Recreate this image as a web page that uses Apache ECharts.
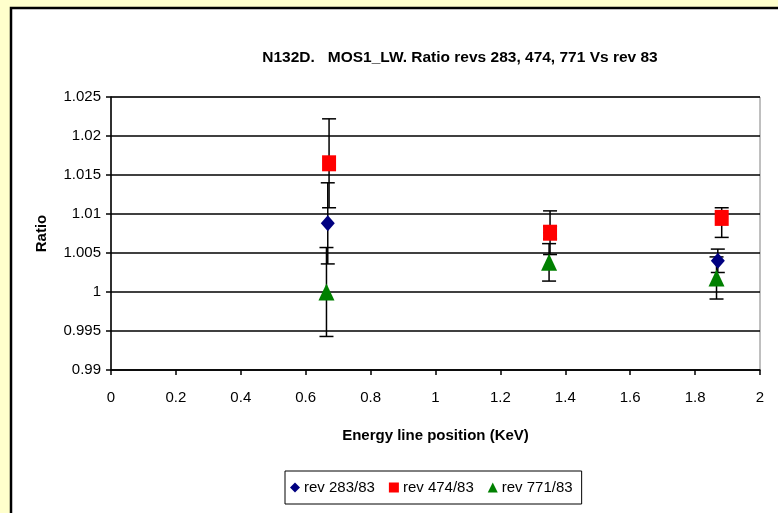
<!DOCTYPE html>
<html>
<head>
<meta charset="utf-8">
<script src="https://cdn.jsdelivr.net/npm/echarts@6/dist/echarts.min.js"></script>
<style>
  html, body { margin: 0; padding: 0; background: #ffffcc; }
  #chart { width: 778px; height: 513px; }
</style>
</head>
<body>
<div id="chart"></div>
<script>
// energy (KeV) of each line, per revolution ratio
const energy283 = [0.668, 1.353, 1.870]
const ratio283 = [1.0088, 1.0076, 1.0040]
const low283 = [1.0036, 1.0068, 1.0025]
const high283 = [1.0140, 1.0084, 1.0055]

const energy474 = [0.672, 1.353, 1.882]
const ratio474 = [1.0165, 1.0076, 1.0095]
const low474 = [1.0108, 1.0048, 1.0070]
const high474 = [1.0222, 1.0104, 1.0108]

const energy771 = [0.664, 1.350, 1.866]
const ratio771 = [1.0000, 1.0038, 1.0018]
const low771 = [0.9943, 1.0014, 0.9991]
const high771 = [1.0057, 1.0062, 1.0045]

const seriesNames = ['rev 283/83', 'rev 474/83', 'rev 771/83']

const font = 'Liberation Sans, Arial, sans-serif'
const chart = echarts.init(document.getElementById('chart'))

function errorBars(xs, lows, highs) {
  return {
    type: 'custom',
    silent: true,
    z: 1,
    encode: { x: 0, y: [1, 2] },
    data: xs.map((x, i) => [x, lows[i], highs[i]]),
    renderItem(params, api) {
      const lo = api.coord([api.value(0), api.value(1)])
      const hi = api.coord([api.value(0), api.value(2)])
      const w = 7
      const style = { stroke: '#000', lineWidth: 1.5 }
      return {
        type: 'group',
        children: [
          { type: 'line', shape: { x1: hi[0], y1: hi[1], x2: lo[0], y2: lo[1] }, style },
          { type: 'line', shape: { x1: hi[0] - w, y1: hi[1], x2: hi[0] + w, y2: hi[1] }, style },
          { type: 'line', shape: { x1: lo[0] - w, y1: lo[1], x2: lo[0] + w, y2: lo[1] }, style }
        ]
      }
    }
  }
}

function points(name, xs, ys, symbol, size, color) {
  return {
    type: 'scatter',
    name,
    z: 3,
    symbol,
    symbolSize: size,
    itemStyle: { color, opacity: 1 },
    data: xs.map((x, i) => [x, ys[i]])
  }
}

chart.setOption({
  backgroundColor: '#ffffcc',
  animation: false,
  textStyle: { fontFamily: font },
  graphic: [{
    type: 'rect',
    z: -10,
    shape: { x: 11, y: 8, width: 800, height: 600 },
    style: { fill: '#fff', stroke: '#000', lineWidth: 2.5 }
  }],
  title: {
    text: 'N132D.   MOS1_LW. Ratio revs 283, 474, 771 Vs rev 83',
    left: 455,
    textAlign: 'center',
    top: 45,
    textStyle: { fontFamily: font, fontSize: 15.5, fontWeight: 'bold', color: '#000' }
  },
  legend: {
    data: seriesNames,
    left: 285,
    top: 471,
    orient: 'horizontal',
    borderColor: '#000',
    borderWidth: 1,
    padding: [9, 9, 9, 5],
    itemGap: 14,
    itemWidth: 10,
    itemHeight: 10,
    textStyle: { fontFamily: font, fontSize: 15, color: '#000', padding: [0, 0, 0, -1] }
  },
  grid: {
    left: 111, right: 18, top: 97, bottom: 143,
    show: true, backgroundColor: '#fff', borderColor: '#808080', borderWidth: 1
  },
  xAxis: {
    type: 'value',
    min: 0, max: 2, interval: 0.2,
    name: 'Energy line position (KeV)',
    nameLocation: 'middle',
    nameGap: 58,
    nameTextStyle: { fontFamily: font, fontSize: 15, fontWeight: 'bold', color: '#000' },
    axisLine: { show: true, lineStyle: { color: '#000', width: 1.5 } },
    axisTick: { show: true, length: 5, lineStyle: { color: '#000', width: 1.5 } },
    axisLabel: { fontSize: 15, color: '#000', margin: 20, formatter: v => String(+v.toFixed(1)) },
    splitLine: { show: false }
  },
  yAxis: {
    type: 'value',
    min: 0.99, max: 1.025, interval: 0.005,
    name: 'Ratio',
    nameLocation: 'middle',
    nameGap: 62,
    nameTextStyle: { fontFamily: font, fontSize: 15, fontWeight: 'bold', color: '#000' },
    axisLine: { show: true, lineStyle: { color: '#000', width: 1.5 } },
    axisTick: { show: true, length: 5, lineStyle: { color: '#000', width: 1.5 } },
    axisLabel: { fontSize: 15, color: '#000', margin: 10, formatter: v => String(+v.toFixed(3)) },
    splitLine: { show: true, lineStyle: { color: '#000', width: 1.5 } }
  },
  series: [
    errorBars(energy283, low283, high283),
    errorBars(energy474, low474, high474),
    errorBars(energy771, low771, high771),
    points(seriesNames[0], energy283, ratio283, 'diamond', [14, 16], '#000080'),
    points(seriesNames[1], energy474, ratio474, 'rect', [14, 16], '#ff0000'),
    points(seriesNames[2], energy771, ratio771, 'triangle', [16, 17], '#008000')
  ]
})
</script>
</body>
</html>
